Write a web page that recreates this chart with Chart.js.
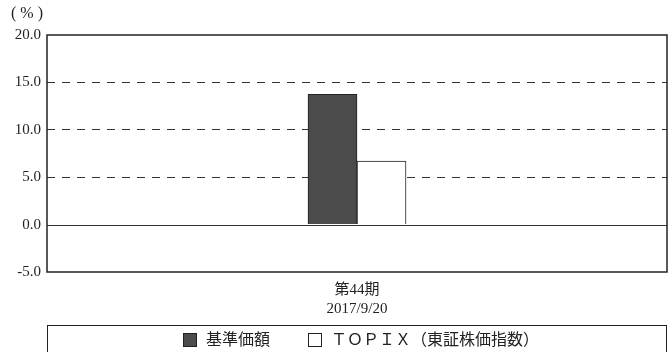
<!DOCTYPE html>
<html>
<head>
<meta charset="utf-8">
<script src="https://cdn.jsdelivr.net/npm/chart.js@4/dist/chart.umd.min.js"></script>
<style>
  html, body { margin: 0; padding: 0; background: #fff; }
  #wrap { position: relative; width: 672px; height: 352px; overflow: hidden; }
  #legend {
    position: absolute; left: 47px; top: 325px; width: 620px; height: 40px;
    border: 1.5px solid #222; box-sizing: border-box;
    display: flex; justify-content: center; align-items: flex-start;
    padding-top: 5px; padding-left: 8px;
    font-family: 'Liberation Serif', 'Noto Sans CJK JP', serif; font-size: 16px; color: #222;
  }
  .item { display: flex; align-items: center; line-height: 18px; }
  .sw { width: 14px; height: 14px; box-sizing: border-box; border: 1px solid #222; margin-right: 9px; }
</style>
</head>
<body>
<div id="wrap">
  <canvas id="chart" width="672" height="352"></canvas>
  <div id="legend"></div>
</div>
<script>
// data
const categories = [['第44期', '2017/9/20']];
const seriesNames = ['基準価額', 'ＴＯＰＩＸ（東証株価指数）'];
const fundValues = [13.75];
const topixValues = [6.7];
const yMin = -5, yMax = 20, yStep = 5;

const fontFamily = "'Liberation Serif', 'Noto Sans CJK JP', serif";
const colors = ['#4b4b4b', '#ffffff'];

// frame + solid zero line
const framePlugin = {
  id: 'frame',
  afterDraw(chart) {
    const { ctx, chartArea: a, scales } = chart;
    const y0 = Math.round(scales.y.getPixelForValue(0)) + 0.5;
    ctx.save();
    ctx.strokeStyle = '#333';
    ctx.lineWidth = 1;
    ctx.beginPath();
    ctx.moveTo(a.left, y0);
    ctx.lineTo(a.right, y0);
    ctx.stroke();
    ctx.lineWidth = 1.5;
    ctx.strokeStyle = '#222';
    ctx.strokeRect(a.left, a.top, a.right - a.left, a.bottom - a.top);
    ctx.fillStyle = '#222';
    ctx.font = '16px ' + fontFamily;
    ctx.textAlign = 'center';
    ctx.textBaseline = 'middle';
    ctx.fillText('( % )', 27, 14);
    ctx.restore();
  }
};

new Chart(document.getElementById('chart').getContext('2d'), {
  type: 'bar',
  data: {
    labels: categories,
    datasets: [{
      label: seriesNames[0],
      data: fundValues,
      backgroundColor: colors[0],
      borderColor: '#222',
      borderWidth: 1,
      barThickness: 49
    }, {
      label: seriesNames[1],
      data: topixValues,
      backgroundColor: colors[1],
      borderColor: '#222',
      borderWidth: 1,
      barThickness: 49
    }]
  },
  options: {
    responsive: false,
    animation: false,
    layout: { padding: { left: 0, right: 5, top: 35, bottom: 27 } },
    plugins: { legend: { display: false }, tooltip: { enabled: false } },
    scales: {
      x: {
        grid: { display: false, drawTicks: false },
        border: { display: false },
        ticks: { color: '#222', padding: 9, font: { family: fontFamily, size: 15, lineHeight: 1.25 } },
        afterFit(scale) { scale.height = 53; }
      },
      y: {
        min: yMin, max: yMax,
        ticks: {
          stepSize: yStep, color: '#222', padding: 6,
          font: { family: fontFamily, size: 15 },
          callback: v => v.toFixed(1)
        },
        grid: {
          drawTicks: false,
          color: ctx => (ctx.tick && (ctx.tick.value === 0 || ctx.tick.value === yMin || ctx.tick.value === yMax)) ? 'rgba(0,0,0,0)' : '#333',
          lineWidth: 1
        },
        border: { display: false, dash: [8, 7] },
        afterFit(scale) { scale.width = 47; }
      }
    }
  },
  plugins: [framePlugin]
});

// legend
const legend = document.getElementById('legend');
seriesNames.forEach((name, i) => {
  const item = document.createElement('div');
  item.className = 'item';
  if (i > 0) item.style.marginLeft = '38px';
  const sw = document.createElement('span');
  sw.className = 'sw';
  sw.style.background = colors[i];
  const txt = document.createElement('span');
  txt.textContent = name;
  item.appendChild(sw);
  item.appendChild(txt);
  legend.appendChild(item);
});
</script>
</body>
</html>
